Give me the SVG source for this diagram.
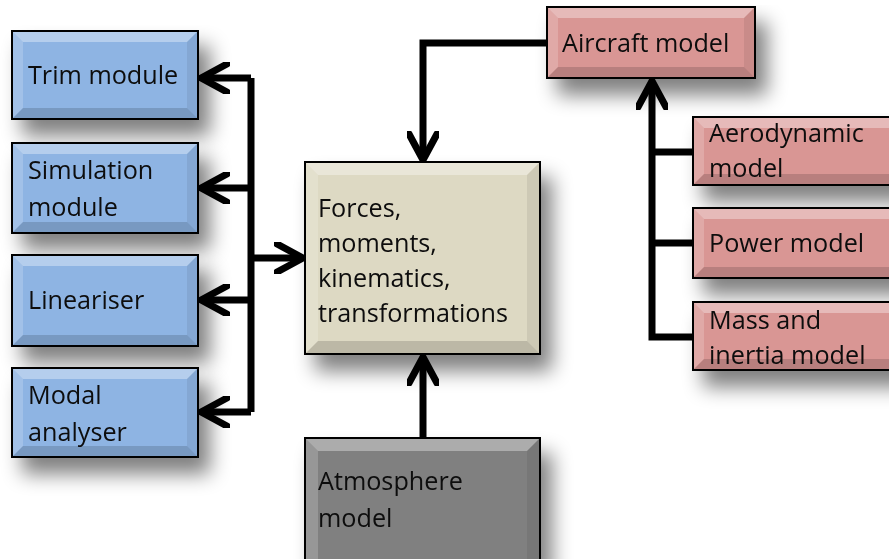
<svg xmlns="http://www.w3.org/2000/svg" width="889" height="559" viewBox="0 0 889 559">
<defs>
<filter id="sh" x="-25%" y="-25%" width="180%" height="200%">
<feGaussianBlur in="SourceAlpha" stdDeviation="10"/>
<feOffset dx="11" dy="16" result="b"/>
<feComponentTransfer><feFuncA type="linear" slope="0.5"/></feComponentTransfer>
<feMerge><feMergeNode/><feMergeNode in="SourceGraphic"/></feMerge>
</filter>
<marker id="ah" viewBox="0 0 32 32" refX="29" refY="16" markerWidth="32" markerHeight="32" markerUnits="userSpaceOnUse" orient="auto">
<path d="M3 2 L29 16 L3 30" fill="none" stroke="#000" stroke-width="7" stroke-linecap="round" stroke-linejoin="miter"/>
</marker>
</defs>
<style>
text{font-family:"Open Sans","Liberation Sans",sans-serif;font-size:25.2px;fill:#0d0d0d}
.box{stroke:#000;stroke-width:2}
.blue{fill:#8eb4e3}
.pink{fill:#d99694}
.beige{fill:#ddd9c3}
.grey{fill:#808080}
.hl{fill:#fff;opacity:.35}
.hl2{fill:#fff;opacity:.18}
.dk{fill:#000;opacity:.15}
.dk2{fill:#000;opacity:.07}
.con{fill:none;stroke:#000;stroke-width:7;stroke-linejoin:miter}
</style>

<g id="trim" filter="url(#sh)">
<rect class="box blue" x="12" y="31" width="186" height="88"/>
<polygon class="hl" points="13,32 197,32 187,42 23,42"/>
<polygon class="hl2" points="13,32 23,42 23,108 13,118"/>
<polygon class="dk2" points="197,32 197,118 187,108 187,42"/>
<polygon class="dk" points="13,118 197,118 187,108 23,108"/>
<text x="28" y="84">Trim module</text>
</g>
<g id="simulation" filter="url(#sh)">
<rect class="box blue" x="12" y="143" width="186" height="90"/>
<polygon class="hl" points="13,144 197,144 187,154 23,154"/>
<polygon class="hl2" points="13,144 23,154 23,222 13,232"/>
<polygon class="dk2" points="197,144 197,232 187,222 187,154"/>
<polygon class="dk" points="13,232 197,232 187,222 23,222"/>
<text x="28" y="179">Simulation</text>
<text x="28" y="216">module</text>
</g>
<g id="lineariser" filter="url(#sh)">
<rect class="box blue" x="12" y="255" width="186" height="91"/>
<polygon class="hl" points="13,256 197,256 187,266 23,266"/>
<polygon class="hl2" points="13,256 23,266 23,335 13,345"/>
<polygon class="dk2" points="197,256 197,345 187,335 187,266"/>
<polygon class="dk" points="13,345 197,345 187,335 23,335"/>
<text x="28" y="309">Lineariser</text>
</g>
<g id="modal" filter="url(#sh)">
<rect class="box blue" x="12" y="368" width="186" height="89"/>
<polygon class="hl" points="13,369 197,369 187,379 23,379"/>
<polygon class="hl2" points="13,369 23,379 23,446 13,456"/>
<polygon class="dk2" points="197,369 197,456 187,446 187,379"/>
<polygon class="dk" points="13,456 197,456 187,446 23,446"/>
<text x="28" y="404">Modal</text>
<text x="28" y="441">analyser</text>
</g>

<g id="forces" filter="url(#sh)">
<rect class="box beige" x="305" y="162" width="235" height="192"/>
<polygon class="hl" points="306,163 539,163 527,175 318,175"/>
<polygon class="hl2" points="306,163 318,175 318,341 306,353"/>
<polygon class="dk2" points="539,163 539,353 527,341 527,175"/>
<polygon class="dk" points="306,353 539,353 527,341 318,341"/>
<text x="318" y="217">Forces,</text>
<text x="318" y="252">moments,</text>
<text x="318" y="287">kinematics,</text>
<text x="318" y="322">transformations</text>
</g>

<g id="atmosphere" filter="url(#sh)">
<rect class="box grey" x="305" y="438" width="235" height="125"/>
<polygon class="hl" points="306,439 539,439 527,451 318,451"/>
<polygon class="hl2" points="306,439 318,451 318,562 306,562"/>
<polygon class="dk2" points="539,439 539,562 527,562 527,451"/>
<text x="318" y="490">Atmosphere</text>
<text x="318" y="527">model</text>
</g>

<g id="aircraft" filter="url(#sh)">
<rect class="box pink" x="547" y="7" width="208" height="71"/>
<polygon class="hl" points="548,8 754,8 744,18 558,18"/>
<polygon class="hl2" points="548,8 558,18 558,67 548,77"/>
<polygon class="dk2" points="754,8 754,77 744,67 744,18"/>
<polygon class="dk" points="548,77 754,77 744,67 558,67"/>
<text x="562" y="52">Aircraft model</text>
</g>

<g id="aerodynamic" filter="url(#sh)">
<rect class="box pink" x="693" y="117" width="210" height="68"/>
<polygon class="hl" points="694,118 902,118 892,128 704,128"/>
<polygon class="hl2" points="694,118 704,128 704,174 694,184"/>
<polygon class="dk" points="694,184 902,184 892,174 704,174"/>
<text x="709" y="142">Aerodynamic</text>
<text x="709" y="177">model</text>
</g>
<g id="power" filter="url(#sh)">
<rect class="box pink" x="693" y="208" width="210" height="70"/>
<polygon class="hl" points="694,209 902,209 892,219 704,219"/>
<polygon class="hl2" points="694,209 704,219 704,267 694,277"/>
<polygon class="dk" points="694,277 902,277 892,267 704,267"/>
<text x="709" y="252">Power model</text>
</g>
<g id="mass" filter="url(#sh)">
<rect class="box pink" x="693" y="302" width="210" height="68"/>
<polygon class="hl" points="694,303 902,303 892,313 704,313"/>
<polygon class="hl2" points="694,303 704,313 704,359 694,369"/>
<polygon class="dk" points="694,369 902,369 892,359 704,359"/>
<text x="709" y="329">Mass and</text>
<text x="709" y="364">inertia model</text>
</g>

<g id="connectors">
<path class="con" d="M251 78 V412"/>
<path class="con" d="M251 78 H201" marker-end="url(#ah)"/>
<path class="con" d="M251 188 H201" marker-end="url(#ah)"/>
<path class="con" d="M251 300 H201" marker-end="url(#ah)"/>
<path class="con" d="M251 412 H201" marker-end="url(#ah)"/>
<path class="con" d="M251 258 H303" marker-end="url(#ah)"/>
<path class="con" d="M547 43 H423 V160" marker-end="url(#ah)"/>
<path class="con" d="M423 438 V357" marker-end="url(#ah)"/>
<path class="con" d="M693 337 H652 V81" marker-end="url(#ah)"/>
<path class="con" d="M652 152 H693"/>
<path class="con" d="M652 243 H693"/>
</g>
</svg>
